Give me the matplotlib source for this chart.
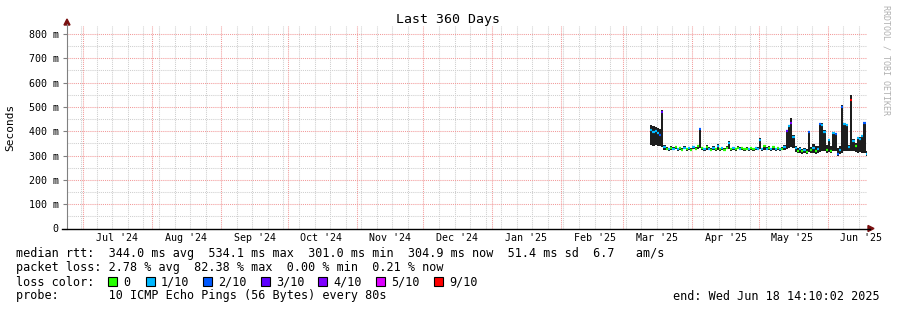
import matplotlib
matplotlib.use('Agg')
import matplotlib.pyplot as plt
import matplotlib.dates as mdates
import numpy as np
import pandas as pd
from datetime import datetime, timedelta
from matplotlib.patches import Rectangle, Polygon

# ---------------- data ----------------
title = "Last 360 Days"
y_label = "Seconds"
range_start = datetime(2024, 6, 23, 14, 10, 2)
range_end = datetime(2025, 6, 18, 14, 10, 2)
data_start = "2025-03-13"

median_ms = [405, 398, 402, 392, 385, 480, 335, 328, 325, 332,
             328, 334, 326, 330, 323, 333, 327, 331, 324, 335,
             328, 338, 408, 330, 326, 336, 328, 324, 332, 327,
             341, 326, 330, 324, 333, 352, 327, 331, 325, 333,
             328, 330, 326, 329, 327, 331, 326, 330, 328, 366,
             327, 338, 328, 332, 325, 334, 327, 331, 326, 329,
             335, 402, 420, 432, 378, 330, 320, 326, 318, 323,
             315, 398, 322, 332, 318, 326, 428, 425, 398, 322,
             362, 320, 394, 388, 306, 322, 500, 428, 425, 335,
             530, 360, 340, 372, 368, 380, 432, 305]
smoke_lo_ms = [345, 340, 345, 340, 338, 335, 322, 322, 320, 324,
               322, 326, 320, 323, 318, 326, 320, 323, 318, 327,
               321, 325, 330, 323, 320, 324, 321, 318, 324, 320,
               324, 320, 323, 318, 325, 326, 320, 323, 318, 325,
               321, 322, 320, 321, 320, 323, 320, 322, 321, 326,
               320, 323, 321, 324, 318, 324, 320, 322, 320, 321,
               322, 328, 330, 335, 330, 316, 310, 312, 308, 310,
               305, 315, 310, 312, 308, 312, 315, 318, 320, 312,
               315, 312, 320, 318, 300, 305, 310, 318, 318, 318,
               320, 318, 315, 312, 315, 312, 312, 300]
smoke_hi_ms = [425, 420, 418, 412, 410, 487, 342, 334, 331, 338,
               334, 340, 332, 336, 330, 339, 333, 337, 330, 341,
               334, 345, 414, 336, 332, 342, 334, 330, 338, 333,
               346, 332, 336, 330, 339, 358, 333, 337, 331, 339,
               334, 336, 332, 335, 333, 337, 332, 336, 334, 371,
               333, 344, 334, 338, 331, 340, 333, 337, 332, 335,
               342, 407, 425, 456, 383, 338, 330, 334, 328, 332,
               326, 402, 335, 346, 338, 340, 432, 433, 405, 345,
               368, 340, 398, 392, 330, 340, 507, 435, 430, 345,
               548, 370, 350, 378, 375, 385, 438, 320]
loss_tenths = [1, 1, 1, 1, 2, 3, 1, 0, 1, 0,
               1, 0, 1, 0, 0, 1, 0, 1, 0, 1,
               0, 0, 2, 0, 1, 0, 1, 0, 1, 0,
               1, 0, 1, 0, 0, 1, 0, 1, 0, 0,
               1, 0, 0, 0, 1, 0, 0, 1, 1, 1,
               1, 0, 1, 0, 1, 0, 1, 0, 1, 0,
               1, 3, 1, 4, 1, 1, 0, 1, 0, 1,
               0, 2, 0, 1, 0, 1, 2, 1, 1, 0,
               1, 0, 1, 2, 2, 1, 2, 1, 1, 1,
               9, 1, 0, 1, 1, 1, 2, 1]

loss_levels = [0, 1, 2, 3, 4, 5, 9]
loss_labels = ["0", "1/10", "2/10", "3/10", "4/10", "5/10", "9/10"]
loss_colors = ["#26ff00", "#00b8ff", "#0059ff", "#5e00ff", "#7e00ff", "#dd00ff", "#ff0000"]

y_ticks = [0, 100, 200, 300, 400, 500, 600, 700, 800]
month_labels = ["Jul '24", "Aug '24", "Sep '24", "Oct '24", "Nov '24", "Dec '24",
                "Jan '25", "Feb '25", "Mar '25", "Apr '25", "May '25", "Jun '25"]

legend_lines = [
    "median rtt:  344.0 ms avg  534.1 ms max  301.0 ms min  304.9 ms now  51.4 ms sd  6.7   am/s",
    "packet loss: 2.78 % avg  82.38 % max  0.00 % min  0.21 % now",
]
probe_text = "probe:       10 ICMP Echo Pings (56 Bytes) every 80s"
end_text = "end: Wed Jun 18 14:10:02 2025"

# ---------------- figure ----------------
MONO = "DejaVu Sans Mono"
W, H = 897, 310
fig = plt.figure(figsize=(W / 100, H / 100), dpi=100)
fig.patch.set_facecolor("white")

ax_left, ax_right, ax_bottom, ax_top = 67, 867, 228.5, 26
ax = fig.add_axes([ax_left / W, (H - ax_bottom) / H, (ax_right - ax_left) / W, (ax_bottom - ax_top) / H])
ymax = 800 * (ax_bottom - ax_top) / (ax_bottom - 34)
ax.set_xlim(mdates.date2num(range_start), mdates.date2num(range_end))
ax.set_ylim(0, ymax)
ax.set_facecolor("white")

MAJ = "#f29a9a"
MIN = "#cfcfcf"
dot = (0, (1, 1))

# vertical grid: weekly (Sunday) minor, monthly major
d = range_start.date()
while d <= range_end.date():
    dt = datetime(d.year, d.month, d.day)
    if dt > range_start:
        if d.day == 1:
            ax.axvline(mdates.date2num(dt), color=MAJ, lw=0.75, ls=dot, zorder=1)
        elif d.weekday() == 6:
            ax.axvline(mdates.date2num(dt), color=MIN, lw=0.75, ls=dot, zorder=0.5)
    d += timedelta(days=1)
# horizontal grid
for v in range(50, int(ymax) + 1, 50):
    if v % 100 == 0:
        ax.axhline(v, color=MAJ, lw=0.75, ls=dot, zorder=1)
    else:
        ax.axhline(v, color=MIN, lw=0.75, ls=dot, zorder=0.5)

# data
dates = pd.date_range(data_start, periods=len(median_ms), freq="D")
xs = mdates.date2num(dates.to_pydatetime())
lo = np.array(smoke_lo_ms, float)
hi = np.array(smoke_hi_ms, float)
ax.bar(xs, hi - lo, bottom=lo, width=1.0, align="edge", color="#1e1e1e", lw=0, zorder=3)
cmap = dict(zip(loss_levels, loss_colors))
ax.hlines(median_ms, xs, xs + 1.0, colors=[cmap[l] for l in loss_tenths], lw=1.6, zorder=4)

# axes styling
for s in ["top", "right", "left", "bottom"]:
    ax.spines[s].set_visible(False)
ax.set_xticks([])
ax.set_yticks(y_ticks)
ax.set_yticklabels([("0" if v == 0 else f"{v} m") for v in y_ticks], fontfamily=MONO, fontsize=7.2)
ax.tick_params(axis="y", length=3, width=0.8, color="#808080", pad=3, labelcolor="#000000")

# axis lines with arrows (figure pixel coordinates)
def P(px, py):
    return (px / W, 1 - py / H)

fig.add_artist(plt.Line2D([P(67, 0)[0]] * 2, [P(0, 229)[1], P(0, 24)[1]], color="#808080", lw=0.8))
fig.add_artist(plt.Line2D([P(62, 0)[0], P(870, 0)[0]], [P(0, 228.5)[1]] * 2, color="#000000", lw=1.0))
fig.add_artist(Polygon([P(64, 25), P(70, 25), P(67, 19)], closed=True, color="#7a1010", transform=fig.transFigure))
fig.add_artist(Polygon([P(868, 225.5), P(868, 231.5), P(874, 228.5)], closed=True, color="#7a1010", transform=fig.transFigure))

# month labels centered at the 16th of each month
for i, lab in enumerate(month_labels):
    y, m = 2024 + (6 + i) // 12, (6 + i) % 12 + 1
    xc = mdates.date2num(datetime(y, m, 16))
    xpix = ax.transData.transform((xc, 0))[0]
    fig.text(xpix / W, 1 - 238 / H, lab, ha="center", va="center", fontfamily=MONO, fontsize=7.2)

fig.text(448 / W, 1 - 19 / H, title, ha="center", va="center", fontfamily=MONO, fontsize=9.5)
fig.text(10 / W, 1 - 127 / H, y_label, ha="center", va="center", rotation=90, fontfamily=MONO, fontsize=8)
fig.text(886 / W, 1 - 60 / H, "RRDTOOL / TOBI OETIKER", ha="center", va="center", rotation=270,
         fontfamily=MONO, fontsize=6, color="#b0b0b0")

FS = 8.5
fig.text(16 / W, 1 - 254 / H, legend_lines[0], ha="left", va="center", fontfamily=MONO, fontsize=FS)
fig.text(16 / W, 1 - 268 / H, legend_lines[1], ha="left", va="center", fontfamily=MONO, fontsize=FS)
fig.text(16 / W, 1 - 282 / H, "loss color:", ha="left", va="center", fontfamily=MONO, fontsize=FS)
sq_x = [108, 146, 203, 261, 318, 376, 434]
for xx, col, lab in zip(sq_x, loss_colors, loss_labels):
    fig.add_artist(Rectangle(P(xx, 286), 9 / W, 9 / H, facecolor=col, edgecolor="black", lw=0.8,
                             transform=fig.transFigure))
    fig.text((xx + 15) / W, 1 - 282 / H, lab, ha="left", va="center", fontfamily=MONO, fontsize=FS)
fig.text(16 / W, 1 - 296 / H, probe_text, ha="left", va="center", fontfamily=MONO, fontsize=FS)
fig.text(880 / W, 1 - 296 / H, end_text, ha="right", va="center", fontfamily=MONO, fontsize=FS)

fig.savefig("out.png", dpi=100, facecolor="white")
